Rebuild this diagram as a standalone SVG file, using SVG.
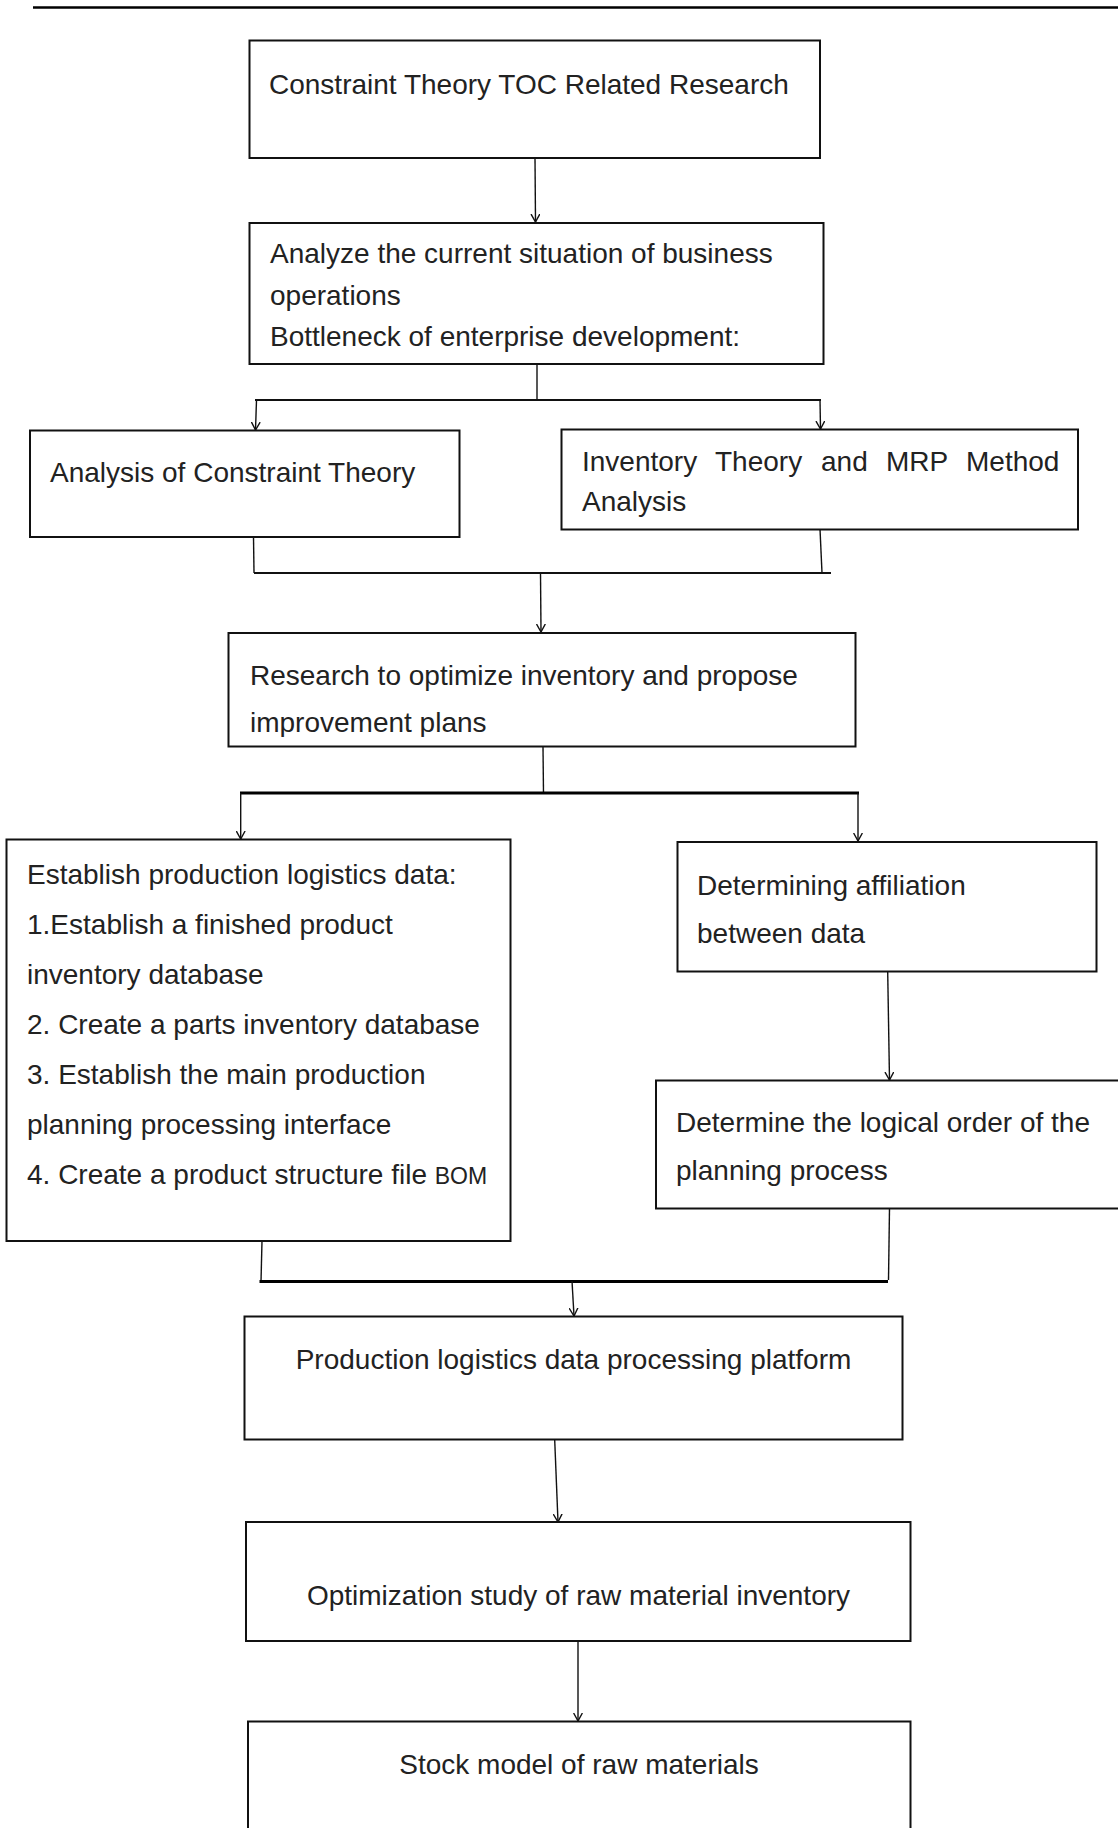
<svg xmlns="http://www.w3.org/2000/svg" width="1118" height="1828" viewBox="0 0 1118 1828">
  <style>
    .box { fill: #fff; stroke: #111; stroke-width: 2; }
    .lbl { font-family: "Liberation Sans", Arial, sans-serif; font-size: 28px; fill: #222; }
    .small { font-size: 23px; }
    .wire { fill: none; stroke: #111; stroke-width: 1.4; }
    .bar { fill: none; stroke: #111; stroke-width: 2; }
    .bus { fill: none; stroke: #000; stroke-width: 3; }
    .arrow { fill: none; stroke: #111; stroke-width: 1.4; marker-end: url(#head); }
  </style>
  <defs>
    <marker id="head" viewBox="0 0 8 10" markerWidth="8" markerHeight="10" refX="8" refY="5" orient="auto" markerUnits="userSpaceOnUse">
      <path d="M0,0.6 L8,5 L0,9.4" fill="none" stroke="#111" stroke-width="1.4"/>
    </marker>
    <clipPath id="clip-research">
      <rect x="228" y="632" width="628" height="105"/>
    </clipPath>
  </defs>

  <rect width="1118" height="1828" fill="#fff"/>

  <!-- page header rule -->
  <line x1="33" y1="7.5" x2="1118" y2="7.5" stroke="#000" stroke-width="2.4"/>

  <!-- connectors -->
  <g id="connectors">
    <line class="arrow" x1="535" y1="158" x2="535.5" y2="222"/>

    <line class="wire" x1="537" y1="364" x2="537" y2="400"/>
    <line class="bar" x1="255" y1="400" x2="821" y2="400"/>
    <line class="arrow" x1="256.5" y1="400" x2="255.5" y2="430"/>
    <line class="arrow" x1="820" y1="400" x2="820.5" y2="429"/>

    <line class="wire" x1="253.5" y1="537" x2="254" y2="573"/>
    <line class="wire" x1="820" y1="529" x2="822" y2="573"/>
    <line class="bar" x1="254" y1="573" x2="831" y2="573"/>
    <line class="arrow" x1="540.5" y1="573" x2="541" y2="632"/>

    <line class="wire" x1="543" y1="747" x2="543.5" y2="793"/>
    <line class="bus" x1="240" y1="793" x2="859" y2="793"/>
    <line class="arrow" x1="240.7" y1="793" x2="240.7" y2="839"/>
    <line class="arrow" x1="858" y1="793" x2="858" y2="841"/>

    <line class="arrow" x1="887.7" y1="972" x2="889.5" y2="1080"/>

    <line class="wire" x1="262" y1="1241" x2="261" y2="1282"/>
    <line class="wire" x1="889.5" y1="1208" x2="888.5" y2="1280"/>
    <line class="bus" x1="259.5" y1="1281.5" x2="888" y2="1281.5"/>
    <line class="arrow" x1="572" y1="1281" x2="574" y2="1316"/>

    <line class="arrow" x1="554.7" y1="1440" x2="558" y2="1522"/>
    <line class="arrow" x1="578" y1="1641" x2="578" y2="1721"/>
  </g>

  <!-- nodes -->
  <g id="toc-research">
    <rect class="box" x="249.5" y="40.5" width="570.5" height="117.5"/>
    <text class="lbl" x="269" y="94">Constraint Theory TOC Related Research</text>
  </g>

  <g id="current-situation">
    <rect class="box" x="249.5" y="223" width="574" height="141"/>
    <text class="lbl" x="270" y="263">Analyze the current situation of business</text>
    <text class="lbl" x="270" y="304.5">operations</text>
    <text class="lbl" x="270" y="346">Bottleneck of enterprise development:</text>
  </g>

  <g id="constraint-analysis">
    <rect class="box" x="30" y="430.5" width="429.5" height="106.5"/>
    <text class="lbl" x="50" y="482">Analysis of Constraint Theory</text>
  </g>

  <g id="inventory-mrp">
    <rect class="box" x="561.5" y="429.5" width="516.5" height="100"/>
    <text class="lbl" y="471"><tspan x="582">Inventory</tspan><tspan x="715">Theory</tspan><tspan x="821">and</tspan><tspan x="886">MRP</tspan><tspan x="966">Method</tspan></text>
    <text class="lbl" x="582" y="511">Analysis</text>
  </g>

  <g id="optimize-inventory">
    <rect class="box" x="228.5" y="633" width="627" height="113.5"/>
    <g clip-path="url(#clip-research)">
      <text class="lbl" x="250" y="685">Research to optimize inventory and propose</text>
      <text class="lbl" x="250" y="731.5">improvement plans</text>
    </g>
  </g>

  <g id="logistics-data">
    <rect class="box" x="6.5" y="839.5" width="504" height="401.5"/>
    <text class="lbl" x="27" y="884">Establish production logistics data:</text>
    <text class="lbl" x="27" y="934">1.Establish a finished product</text>
    <text class="lbl" x="27" y="984">inventory database</text>
    <text class="lbl" x="27" y="1034">2. Create a parts inventory database</text>
    <text class="lbl" x="27" y="1084">3. Establish the main production</text>
    <text class="lbl" x="27" y="1134">planning processing interface</text>
    <text class="lbl" x="27" y="1184">4. Create a product structure file <tspan class="small">BOM</tspan></text>
  </g>

  <g id="affiliation">
    <rect class="box" x="677.5" y="842" width="419" height="129.5"/>
    <text class="lbl" x="697" y="895">Determining affiliation</text>
    <text class="lbl" x="697" y="943">between data</text>
  </g>

  <g id="logical-order">
    <rect class="box" x="656" y="1080.5" width="480" height="128"/>
    <text class="lbl" x="676" y="1132">Determine the logical order of the</text>
    <text class="lbl" x="676" y="1180">planning process</text>
  </g>

  <g id="processing-platform">
    <rect class="box" x="244.5" y="1316.5" width="658" height="123"/>
    <text class="lbl" x="573.5" y="1369" text-anchor="middle">Production logistics data processing platform</text>
  </g>

  <g id="raw-material-study">
    <rect class="box" x="246" y="1522" width="664.5" height="119"/>
    <text class="lbl" x="578.5" y="1605" text-anchor="middle">Optimization study of raw material inventory</text>
  </g>

  <g id="stock-model">
    <rect class="box" x="248" y="1721.5" width="662.5" height="130"/>
    <text class="lbl" x="579" y="1774" text-anchor="middle">Stock model of raw materials</text>
  </g>
</svg>
